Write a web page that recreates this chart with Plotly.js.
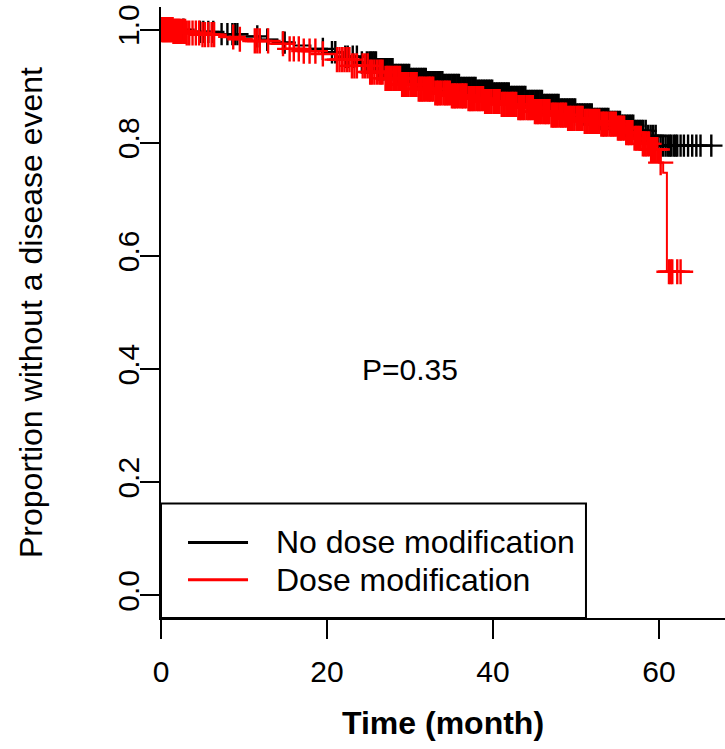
<!DOCTYPE html>
<html>
<head>
<meta charset="utf-8">
<script src="https://cdn.plot.ly/plotly-3.0.1.min.js"></script>
<style>html,body{margin:0;padding:0;background:#fff;}#chart{width:725px;height:749px;}</style>
</head>
<body>
<div id="chart"></div>
<script>
// ---- Data ----
var seriesNames = ["No dose modification", "Dose modification"];
var seriesColors = ["#000000", "#FF0000"];
var pValueText = "P=0.35";
var xTicks = [0, 20, 40, 60];
var yTicks = [0, 0.2, 0.4, 0.6, 0.8, 1.0];
var yTickText = ["0.0", "0.2", "0.4", "0.6", "0.8", "1.0"];

// Kaplan-Meier step curve: No dose modification (black)
var blackTime = [0, 3.5, 7, 9.5, 12, 14, 16, 18, 20, 22, 24, 26, 28, 30, 32, 34, 36, 38, 40, 42, 44, 46, 48, 50, 52, 54, 55.5, 57, 58.5, 59.8, 66.5];
var blackSurv = [1.0, 0.996, 0.992, 0.988, 0.982, 0.977, 0.972, 0.966, 0.960, 0.952, 0.942, 0.930, 0.920, 0.913, 0.907, 0.902, 0.897, 0.892, 0.887, 0.881, 0.874, 0.867, 0.859, 0.850, 0.842, 0.837, 0.830, 0.821, 0.812, 0.795, 0.795];
// censoring times (black)
var blackCensor = [2.7, 4.7, 5.1, 5.7, 6.3, 7.3, 8.0, 8.6, 8.9, 9.2, 11.6, 12.8, 14.7, 14.9, 19.5, 20.6, 21.0, 22.2, 22.5, 23.1, 23.6, 24.2, 24.8,
  25.1, 25.3, 25.5, 25.7, 25.9, 26.1, 26.3, 26.5, 26.7, 26.9, 27.1, 27.3, 27.5, 27.7, 27.9, 28.1, 28.3, 28.5, 28.7, 28.9,
  29.1, 29.3, 29.5, 29.7, 29.9, 30.1, 30.3, 30.5, 30.7, 30.9, 31.1, 31.3, 31.5, 31.7, 31.9, 32.1, 32.3, 32.5, 32.7, 32.9,
  33.1, 33.3, 33.5, 33.7, 33.9, 34.1, 34.3, 34.5, 34.7, 34.9, 35.1, 35.3, 35.5, 35.7, 35.9, 36.1, 36.3, 36.5, 36.7, 36.9,
  37.1, 37.3, 37.5, 37.7, 37.9, 38.1, 38.3, 38.5, 38.7, 38.9, 39.1, 39.3, 39.5, 39.7, 39.9, 40.1, 40.3, 40.5, 40.7, 40.9,
  41.1, 41.3, 41.5, 41.7, 41.9, 42.1, 42.3, 42.5, 42.7, 42.9, 43.1, 43.3, 43.5, 43.7, 43.9, 44.1, 44.3, 44.5, 44.7, 44.9,
  45.1, 45.3, 45.5, 45.7, 45.9, 46.1, 46.3, 46.5, 46.7, 46.9, 47.1, 47.3, 47.5, 47.7, 47.9, 48.1, 48.3, 48.5, 48.7, 48.9,
  49.1, 49.3, 49.5, 49.7, 49.9, 50.1, 50.3, 50.5, 50.7, 50.9, 51.1, 51.3, 51.5, 51.7, 51.9, 52.1, 52.3, 52.5, 52.7, 52.9,
  53.1, 53.3, 53.5, 53.7, 53.9, 54.1, 54.3, 54.5, 54.7, 54.9, 55.1, 55.3, 55.5, 55.7, 55.9, 56.1, 56.3, 56.5, 56.7, 56.9,
  57.1, 57.3, 57.5, 57.7, 57.9, 58.1, 58.4, 58.7, 59.0, 59.3, 59.6, 59.9, 60.2, 60.5, 60.8,
  61.1, 61.3, 61.5, 61.8, 62.0, 62.2, 62.6, 63.0, 63.5, 64.0, 64.5, 65.0, 66.3];

// Kaplan-Meier step curve: Dose modification (red)
var redTime = [0, 1.5, 3, 5, 7, 9, 11, 13, 15, 17, 19, 21, 23, 25, 27, 29, 31, 33, 35, 37, 39, 41, 43, 45, 47, 49, 51, 53, 55, 56, 57, 58, 59, 60, 60.5, 60.95, 63.3];
var redSurv = [1.0, 0.997, 0.994, 0.991, 0.987, 0.983, 0.980, 0.975, 0.966, 0.962, 0.957, 0.947, 0.936, 0.925, 0.914, 0.903, 0.895, 0.888, 0.883, 0.878, 0.873, 0.868, 0.862, 0.855, 0.849, 0.843, 0.838, 0.833, 0.826, 0.818, 0.808, 0.798, 0.788, 0.765, 0.747, 0.572, 0.572];
// censoring times (red)
var redCensor = [0.1, 0.2, 0.3, 0.4, 0.5, 0.6, 0.7, 0.8, 0.9, 1.0, 1.1, 1.2, 1.3, 1.4, 1.5, 1.6, 1.7, 1.8, 1.9, 2.0, 2.1, 2.2, 2.3, 2.5, 2.7, 2.9, 3.1, 3.4, 3.8, 4.2, 4.6, 5.0, 5.3, 5.7, 6.1, 6.4,
  8.7, 9.5, 11.3, 11.6, 11.9, 12.9, 14.7, 15.5, 16.0, 16.6, 17.2, 17.9, 18.6, 19.5, 21.2, 21.5, 21.8, 22.1, 22.4, 22.7, 23.0, 23.3, 23.6,
  24.3, 24.6, 24.9, 25.2, 25.4, 25.7, 26.0, 26.3, 26.5, 26.7,
  27.05, 27.25, 27.4, 27.6, 27.8, 28.05, 28.25, 28.4, 28.6, 28.8, 29.05, 29.25, 29.4, 29.6, 29.8, 30.05, 30.25, 30.4, 30.6, 30.8,
  31.05, 31.25, 31.4, 31.6, 31.8, 32.05, 32.25, 32.4, 32.6, 32.8, 33.05, 33.25, 33.4, 33.6, 33.8, 34.05, 34.25, 34.4, 34.6, 34.8,
  35.05, 35.25, 35.4, 35.6, 35.8, 36.05, 36.25, 36.4, 36.6, 36.8, 37.05, 37.25, 37.4, 37.6, 37.8, 38.05, 38.25, 38.4, 38.6, 38.8,
  39.05, 39.25, 39.4, 39.6, 39.8, 40.05, 40.25, 40.4, 40.6, 40.8, 41.05, 41.25, 41.4, 41.6, 41.8, 42.05, 42.25, 42.4, 42.6, 42.8,
  43.05, 43.25, 43.4, 43.6, 43.8, 44.05, 44.25, 44.4, 44.6, 44.8, 45.05, 45.25, 45.4, 45.6, 45.8, 46.05, 46.25, 46.4, 46.6, 46.8,
  47.05, 47.25, 47.4, 47.6, 47.8, 48.05, 48.25, 48.4, 48.6, 48.8, 49.05, 49.25, 49.4, 49.6, 49.8, 50.05, 50.25, 50.4, 50.6, 50.8,
  51.05, 51.25, 51.4, 51.6, 51.8, 52.05, 52.25, 52.4, 52.6, 52.8, 53.05, 53.25, 53.4, 53.6, 53.8, 54.05, 54.25, 54.4, 54.6, 54.8,
  55.05, 55.25, 55.4, 55.6, 55.8, 56.05, 56.25, 56.4, 56.6, 56.8, 57.05, 57.25, 57.4, 57.6, 57.8, 58.05, 58.25, 58.4, 58.6, 58.8,
  59.05, 59.25, 59.4, 59.6, 59.8, 60.2, 61.2, 61.4, 61.6, 62.2, 62.6];

// ---- helpers ----
function stepValue(times, surv, t) {
  var v = surv[0];
  for (var i = 0; i < times.length; i++) { if (times[i] <= t) v = surv[i]; else break; }
  return v;
}
function censorY(times, surv, cens) { return cens.map(function (t) { return stepValue(times, surv, t); }); }

var font = "Liberation Sans, Arial, Helvetica, sans-serif";
var lineW = 2, markLineW = 2.4, markSizeBlack = 16, markSizeRed = 18;

var traces = [
  {x: blackTime, y: blackSurv, type: "scatter", mode: "lines", line: {shape: "hv", color: seriesColors[0], width: lineW}, name: seriesNames[0], hoverinfo: "skip"},
  {x: blackCensor, y: censorY(blackTime, blackSurv, blackCensor), type: "scatter", mode: "markers",
   marker: {symbol: "cross-thin", size: markSizeBlack, line: {color: seriesColors[0], width: markLineW}}, showlegend: false, hoverinfo: "skip"},
  {x: redTime, y: redSurv, type: "scatter", mode: "lines", line: {shape: "hv", color: seriesColors[1], width: lineW}, name: seriesNames[1], hoverinfo: "skip"},
  {x: redCensor, y: censorY(redTime, redSurv, redCensor), type: "scatter", mode: "markers",
   marker: {symbol: "cross-thin", size: markSizeRed, line: {color: seriesColors[1], width: markLineW}}, showlegend: false, hoverinfo: "skip"}
];

// legend drawn as in base R (bottom-left box)
var legX0 = 0, legX1 = 0.7535, legY0 = 0, legY1 = 0.1876;
var rowY = [0.1237, 0.0624];
var shapes = [
  {type: "rect", xref: "paper", yref: "paper", x0: legX0, x1: legX1, y0: legY0, y1: legY1, line: {color: "#000", width: 2}, fillcolor: "rgba(255,255,255,1)", layer: "above"}
];
var annotations = [
  {xref: "x", yref: "y", x: 30, y: 0.4, text: pValueText, showarrow: false, font: {family: font, size: 30, color: "#000"}}
];
seriesNames.forEach(function (n, i) {
  shapes.push({type: "line", xref: "paper", yref: "paper", x0: 0.0479, x1: 0.1543, y0: rowY[i], y1: rowY[i], line: {color: seriesColors[i], width: 3}, layer: "above"});
  annotations.push({xref: "paper", yref: "paper", x: 0.2004, y: rowY[i], xanchor: "left", yanchor: "middle", text: n, showarrow: false, font: {family: font, size: 32, color: "#000"}});
});

var layout = {
  width: 725, height: 749,
  margin: {l: 161, r: 0, t: 7, b: 131, pad: 0},
  paper_bgcolor: "#fff", plot_bgcolor: "#fff",
  showlegend: false,
  font: {family: font, color: "#000", size: 31},
  xaxis: {
    range: [0, 67.95], tickvals: xTicks, ticktext: xTicks.map(String),
    showline: true, linecolor: "#000", linewidth: 2, mirror: false,
    ticks: "outside", ticklen: 19, tickwidth: 2, tickcolor: "#000",
    showgrid: false, zeroline: false, tickfont: {family: font, size: 30, color: "#000"},
    ticklabelstandoff: 7,
    title: {text: "<b>Time (month)</b>", font: {family: font, size: 32, color: "#000"}, standoff: 25},
    automargin: false
  },
  yaxis: {
    range: [-0.04, 1.04], tickvals: yTicks, ticktext: yTickText, tickangle: -90,
    showline: true, linecolor: "#000", linewidth: 2, mirror: false,
    ticks: "outside", ticklen: 19, tickwidth: 2, tickcolor: "#000",
    showgrid: false, zeroline: false, tickfont: {family: font, size: 30, color: "#000"},
    ticklabelstandoff: -11,
    title: {text: "Proportion without a disease event", font: {family: font, size: 32, color: "#000"}, standoff: 60},
    automargin: false
  },
  shapes: shapes,
  annotations: annotations
};

Plotly.newPlot("chart", traces, layout, {staticPlot: true, displayModeBar: false});
</script>
</body>
</html>
